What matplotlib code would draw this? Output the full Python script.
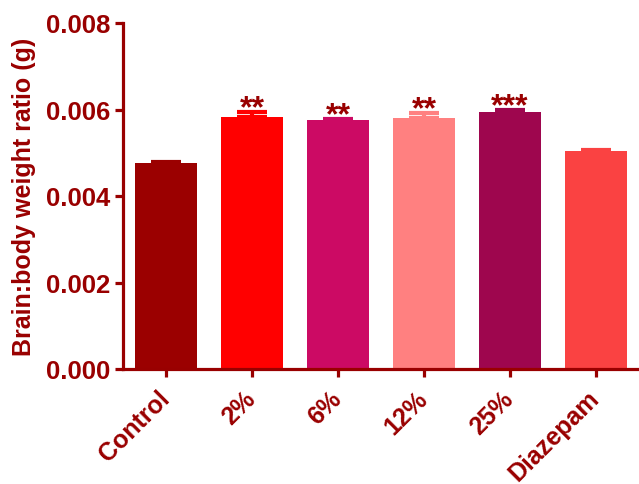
import matplotlib
matplotlib.use("Agg")
import matplotlib.pyplot as plt
import matplotlib.transforms as mtransforms

categories = ["Control", "2%", "6%", "12%", "25%", "Diazepam"]
means = [0.00476, 0.00583, 0.00576, 0.00580, 0.00595, 0.00505]
sems = [0.00002, 0.00012, 0.00002, 0.00012, 0.00004, 0.000005]
stars = ["", "**", "**", "**", "***", ""]
colors = ["#9B0000", "#FF0000", "#CC0A64", "#FF8080", "#9E064E", "#FA4242"]

dark = "#990000"
plt.rcParams['font.family'] = ['Liberation Sans', 'DejaVu Sans']

fig = plt.figure(figsize=(6.39, 4.85), dpi=100)
ax = fig.add_axes([123/639, 1 - 370/485, (639-123)/639, 346/485])

x = list(range(len(categories)))
ax.bar(x, means, width=0.72, color=colors, zorder=2)
for xi, m, s, c in zip(x, means, sems, colors):
    ax.errorbar(xi, m, yerr=[[0], [s]], color=c, capsize=10.5, capthick=3,
                elinewidth=3, zorder=1)
for xi, m, s, st in zip(x, means, sems, stars):
    if st:
        ax.annotate(st, xy=(xi, m + s), xytext=(0, -3), textcoords='offset points',
                    ha='center', va='baseline', fontsize=23, fontweight='bold',
                    color=dark)

ax.set_xlim(-0.5, 5.5)
ax.set_ylim(0, 0.008)
ax.set_yticks([0, 0.002, 0.004, 0.006, 0.008])
ax.set_yticklabels(["0.000", "0.002", "0.004", "0.006", "0.008"])
ax.set_xticks(x)
ax.set_xticklabels(categories, rotation=45, ha='right', rotation_mode='anchor')

for sp in ['top', 'right']:
    ax.spines[sp].set_visible(False)
for sp in ['left', 'bottom']:
    ax.spines[sp].set_color(dark)
    ax.spines[sp].set_linewidth(2.3)
ax.tick_params(axis='both', colors=dark, width=2.3, length=6, labelsize=18.5)
ax.tick_params(axis='y', pad=3)
ax.tick_params(axis='x', pad=4)
for lab in ax.get_xticklabels() + ax.get_yticklabels():
    lab.set_fontweight('bold')
    lab.set_color(dark)
offset = mtransforms.ScaledTranslation(-9/100, -3/100, fig.dpi_scale_trans)
for lab in ax.get_xticklabels():
    lab.set_fontsize(18)
    lab.set_transform(lab.get_transform() + offset)
ax.set_ylabel("Brain:body weight ratio (g)", fontsize=18, fontweight='bold',
              color=dark, labelpad=7)

fig.savefig("out.png", dpi=100)
